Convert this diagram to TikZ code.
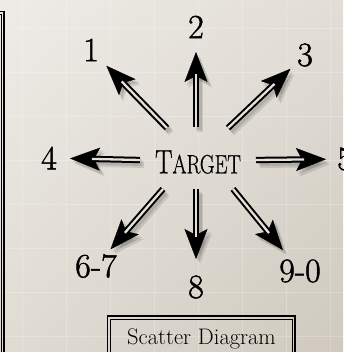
\documentclass[tikz,border=0pt]{standalone}
\usepackage{fontspec}
\usetikzlibrary{arrows.meta,shadings}

\newfontfamily\heavyfont{Latin Modern Roman}[FakeBold=1.4]
\newfontfamily\capsfont{Latin Modern Roman}[FakeBold=0.8]

\definecolor{bgTL}{RGB}{238,236,231}
\definecolor{bgTR}{RGB}{226,222,214}
\definecolor{bgBL}{RGB}{224,220,212}
\definecolor{bgBR}{RGB}{207,201,190}
\definecolor{shaftfill}{RGB}{228,225,218}

% one arrow of the diagram: tail coordinate, target label, distance of the tip from the label centre
\newcommand\scatarrow[3]{%
  \begin{scope}[transform canvas={shift={(4,5)}}]
    \draw[arrshadow, shorten >=#3pt] (#1) -- (#2.center);
  \end{scope}
  \begin{scope}[transform canvas={shift={(2.5,3)}}]
    \draw[arrshadow, shorten >=#3pt] (#1) -- (#2.center);
  \end{scope}
  \draw[arrhead, shorten >=#3pt] (#1) -- (#2.center);
  \draw[arrshaft, shorten >=#3pt+22pt] (#1) -- (#2.center);
}

\begin{document}
\begin{tikzpicture}[x=1pt,y=-1pt,
  tip/.style={-{Stealth[length=30pt,width=23pt,inset=6pt]}},
  arrhead/.style={tip, draw=black, line width=0.4pt},
  arrshaft/.style={draw=black, line width=2pt, double=shaftfill, double distance=2.3pt},
  arrshadow/.style={tip, draw=black!80, line width=6pt, opacity=.14},
  lbl/.style={inner sep=0pt, font=\heavyfont\fontsize{34}{40}\selectfont},
  frameouter/.style={draw=black, line width=1.7pt},
  frameinner/.style={draw=black, line width=0.7pt},
]
\useasboundingbox (0,0) rectangle (343,352);

% parchment background
\shade[upper left=bgTL, upper right=bgTR, lower left=bgBL, lower right=bgBR]
  (0,0) rectangle (343,352);
\begin{scope}[white, opacity=.22, line width=.6pt]
  \foreach \gx in {22,66,110,154,198,242,286,330} \draw (\gx,0) -- (\gx,352);
  \foreach \gy in {28,72,116,160,204,248,292,336} \draw (0,\gy) -- (343,\gy);
\end{scope}

% double rule on the left edge
\draw[frameouter] (-10,11.5) -- (3.8,11.5) -- (3.8,362);
\draw[frameinner] (-10,14.5) -- (1,14.5) -- (1,362);

% centre (small capitals set by hand) and labels
\node[inner sep=0pt] (T) at (198,162)
  {\capsfont\scalebox{1}[1.3]{\fontsize{26}{30}\selectfont T\fontsize{20.3}{24}\selectfont ARGET}};

\node[lbl] (l1) at (91,50)  {1};
\node[lbl] (l2) at (196,27) {2};
\node[lbl] (l3) at (305,55) {3};
\node[lbl] (l4) at (49,158) {4};
\node[lbl] (l5) at (345,159) {5};
\node[lbl] (l6) at (96,266) {6-7};
\node[lbl] (l8) at (196,287) {8};
\node[lbl] (l9) at (300,271) {9-0};

% tails of the arrows around the centre
\coordinate (t1) at (167,128);
\coordinate (t2) at (196,127);
\coordinate (t3) at (228,128);
\coordinate (t4) at (140,160);
\coordinate (t5) at (256,160);
\coordinate (t6) at (163,189);
\coordinate (t8) at (196,189);
\coordinate (t9) at (233,189);

\scatarrow{t1}{l1}{22}
\scatarrow{t2}{l2}{25}
\scatarrow{t3}{l3}{20}
\scatarrow{t4}{l4}{21}
\scatarrow{t5}{l5}{19}
\scatarrow{t6}{l6}{22}
\scatarrow{t8}{l8}{28}
\scatarrow{t9}{l9}{27}

% caption box
\draw[frameouter] (107.5,362) -- (107.5,316) -- (295,316) -- (295,362);
\draw[frameinner] (110.5,362) -- (110.5,319) -- (292,319) -- (292,362);
\node[anchor=base, inner sep=0pt, font=\fontsize{22.5}{26}\selectfont] (cap) at (201.5,344)
  {Scatter Diagram};
\end{tikzpicture}
\end{document}
